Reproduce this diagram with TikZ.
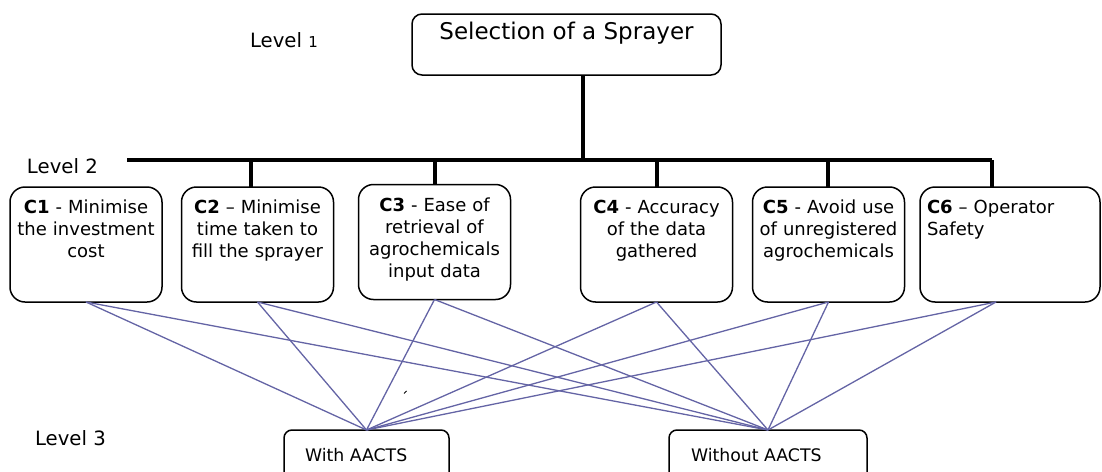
\documentclass[tikz,border=0pt]{standalone}
\usepackage{fontspec}
\setmainfont{DejaVu Sans}
\definecolor{linkblue}{RGB}{100,100,165}
\begin{document}
\begin{tikzpicture}[x=1pt,y=-1pt,
  every node/.style={inner sep=0pt, outer sep=0pt},
  cbox/.style={draw, line width=1.5pt, rounded corners=15pt, minimum width=152pt, minimum height=115pt},
  txt/.style={font=\fontsize{18}{22}\selectfont, anchor=base, align=center, text width=160pt},
  lvl/.style={font=\fontsize{19.7}{22}\selectfont, anchor=base west},
  bar/.style={line width=4.5pt},
  link/.style={draw=linkblue, line width=1.3pt},
  altbox/.style={draw, line width=1.5pt, rounded corners=8pt, minimum height=60pt, anchor=north},
  alttxt/.style={font=\fontsize{17.3}{20}\selectfont, anchor=base west}]
\useasboundingbox (0,0) rectangle (1102,471);

% level labels
\node[lvl] (l1) at (250,47) {Level {\fontsize{15}{15}\selectfont 1}};
\node[lvl] (l2) at (27,173) {Level 2};
\node[lvl] (l3) at (35,445) {Level 3};

% top
\node[draw, line width=1.5pt, rounded corners=10pt, minimum width=309pt, minimum height=61pt] (top) at (566.5,44.5) {};
\node[font=\fontsize{23}{26}\selectfont, anchor=base] (toptxt) at (566.5,39.5) {Selection of a Sprayer};

% criteria boxes
\node[cbox] (c1) at (86,244.5) {};
\node[cbox] (c2) at (257.5,244.5) {};
\node[cbox] (c3) at (434.5,242) {};
\node[cbox] (c4) at (656.5,244.5) {};
\node[cbox] (c5) at (828.5,244.5) {};
\node[cbox, minimum width=180pt] (c6) at (1010,244.5) {};

\node[txt] (c1t) at (86,213) {\textbf{C1} - Minimise\\the investment\\cost};
\node[txt] (c2t) at (257.5,213) {\textbf{C2} – Minimise\\time taken to\\fill the sprayer};
\node[txt] (c3t) at (434.5,211) {\textbf{C3} - Ease of\\retrieval of\\agrochemicals\\input data};
\node[txt] (c4t) at (656.5,213) {\textbf{C4} - Accuracy\\of the data\\gathered};
\node[txt] (c5t) at (828.5,213) {\textbf{C5} - Avoid use\\of unregistered\\agrochemicals};
\node[txt, align=left, anchor=base west, text width=170pt] (c6t) at (927,213) {\textbf{C6} – Operator\\Safety};

% hierarchy bars
\coordinate (bl) at (127,160);
\coordinate (br) at (992,160);
\coordinate (j) at (583,160);
\draw[bar] (bl) -- (br);
\draw[bar] (top.south -| j) -- (j);
\coordinate (d2) at (251,160);
\coordinate (d3) at (435,160);
\coordinate (d4) at (657,160);
\coordinate (d5) at (828,160);
\coordinate (d6) at (992,160);
\draw[bar] (d2) -- (d2 |- c2.north);
\draw[bar] (d3) -- (d3 |- c3.north);
\draw[bar] (d4) -- (d4 |- c4.north);
\draw[bar] (d5) -- (d5 |- c5.north);
\draw[bar] (d6) -- (d6 |- c6.north);

% alternatives
\node[altbox, minimum width=165pt] (with) at (366.5,430) {};
\node[altbox, minimum width=198pt] (without) at (768,430) {};
\node[alttxt] (witht) at (305,461) {With AACTS};
\node[alttxt] (withoutt) at (691,461) {Without AACTS};

% links
\coordinate (c6s) at (996,302);
\foreach \s in {c1.south,c2.south,c3.south,c4.south,c5.south,c6s}{
  \draw[link] (\s) -- (with.north);
  \draw[link] (\s) -- (without.north);
}

% stray tick
\coordinate (tk1) at (404,393.5);
\coordinate (tk2) at (406.5,391);
\draw[line width=1pt] (tk1) -- (tk2);
\end{tikzpicture}
\end{document}
